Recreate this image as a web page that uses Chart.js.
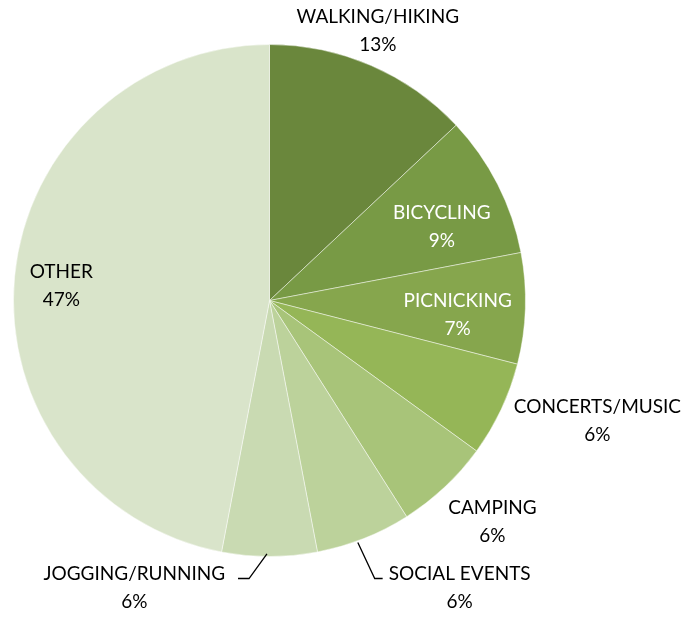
<!DOCTYPE html>
<html>
<head>
<meta charset="utf-8">
<script src="https://cdn.jsdelivr.net/npm/chart.js@4.4.1/dist/chart.umd.min.js"></script>
<style>
  html, body { margin: 0; padding: 0; background: #fff; }
  canvas { display: block; }
</style>
</head>
<body>
<canvas id="pie" width="686" height="620"></canvas>
<script>
const categories = ['WALKING/HIKING', 'BICYCLING', 'PICNICKING', 'CONCERTS/MUSIC', 'CAMPING', 'SOCIAL EVENTS', 'JOGGING/RUNNING', 'OTHER'];
const shares = [13, 9, 7, 6, 6, 6, 6, 47];
const sliceColors = ['#6a873c', '#789a45', '#86a64d', '#95b657', '#a8c479', '#bcd29b', '#c9dab2', '#d9e4ca'];

// label placement: offset from pie centre, in units of the radius
const labelSpots = [
    { dx: 0.423, dy: -1.055, color: '#000' },
    { dx: 0.673, dy: -0.287, color: '#fff' },
    { dx: 0.735, dy: 0.057, color: '#fff' },
    { dx: 1.281, dy: 0.470, color: '#000' },
    { dx: 0.871, dy: 0.866, color: '#000' },
    { dx: 0.743, dy: 1.121, color: '#000', leader: [[0.345, 0.945], [0.411, 1.086], [0.442, 1.086]] },
    { dx: -0.528, dy: 1.124, color: '#000', leader: [[-0.010, 0.990], [-0.080, 1.086], [-0.123, 1.086]] },
    { dx: -0.813, dy: -0.057, color: '#000' }
];

const labelPlugin = {
    id: 'sliceLabels',
    afterDatasetsDraw(chart) {
        const ctx = chart.ctx;
        const arcs = chart.getDatasetMeta(0).data;
        ctx.save();
        ctx.font = '19px Lato, "Open Sans", sans-serif';
        ctx.textAlign = 'center';
        ctx.textBaseline = 'middle';
        arcs.forEach((arc, i) => {
            const r = arc.outerRadius;
            const spot = labelSpots[i];
            const x = arc.x + spot.dx * r;
            const y = arc.y + spot.dy * r;
            ctx.fillStyle = spot.color;
            ctx.fillText(categories[i], x, y - 14);
            ctx.fillText(shares[i] + '%', x, y + 14);
            if (spot.leader) {
                ctx.strokeStyle = '#000';
                ctx.lineWidth = 1.3;
                ctx.beginPath();
                spot.leader.forEach(([px, py], k) => {
                    const lx = arc.x + px * r, ly = arc.y + py * r;
                    if (k === 0) ctx.moveTo(lx, ly); else ctx.lineTo(lx, ly);
                });
                ctx.stroke();
            }
        });
        ctx.restore();
    }
};

new Chart(document.getElementById('pie'), {
    type: 'pie',
    data: {
        labels: categories,
        datasets: [{
            data: shares,
            backgroundColor: sliceColors,
            borderColor: 'rgba(255,255,255,0.45)',
            borderWidth: 1
        }]
    },
    options: {
        responsive: false,
        animation: false,
        layout: { padding: { left: 13, right: 160, top: 44, bottom: 63 } },
        plugins: {
            legend: { display: false },
            tooltip: { enabled: false }
        }
    },
    plugins: [labelPlugin]
});
</script>
</body>
</html>
